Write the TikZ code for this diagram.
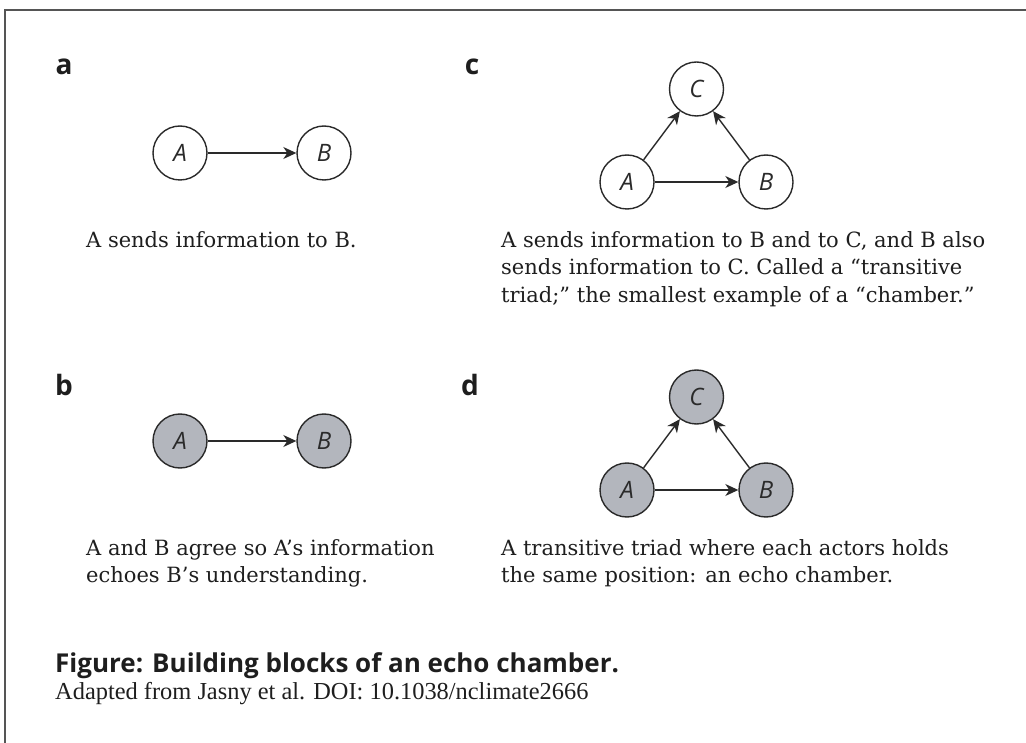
\documentclass[tikz,border=0pt]{standalone}
\usepackage{fontspec}
\setmainfont{DejaVu Serif}
\newfontfamily\panelfont{Open Sans}
\newfontfamily\actorfont{Open Sans}
\newfontfamily\sourcefont{Liberation Serif}
\usetikzlibrary{calc,arrows.meta}

\definecolor{actorline}{HTML}{2A2A2A}
\definecolor{agreefill}{HTML}{B3B6BD}
\definecolor{textcol}{HTML}{1E1E1E}
\definecolor{framecol}{HTML}{555555}

\tikzset{
  actor/.style={circle, draw=actorline, line width=1.4pt, minimum size=54pt,
    inner sep=0pt, text=actorline,
    font=\actorfont\itshape\fontsize{24}{24}\selectfont},
  agree/.style={actor, fill=agreefill},
  sends/.style={-{Stealth[length=13pt,width=12pt,inset=4pt]}, line width=1.4pt,
    draw=actorline},
  panel/.style={font=\panelfont\bfseries\fontsize{28}{28}\selectfont,
    text=textcol},
  caption/.style={anchor=north west, align=left, inner sep=0pt, text=textcol,
    font=\fontsize{21}{27.5}\selectfont}
}

\begin{document}
\begin{tikzpicture}[x=1pt, y=-1pt]
  \def\pairSep{144}
  \def\triSep{139}
  \def\triRise{93}
  \useasboundingbox (0,0) rectangle (1026,743);
  \draw [framecol, line width=1.3pt] (5,743) -- (5,10) -- (1026,10);

  % Panel a: nodes
  \node [panel] (la) at (64,67) {a};
  \node [actor] (aA) at (180,153) {A};
  \node [actor] (aB) at ($(aA)+(\pairSep,0)$) {B};
  \node [caption] (capa) at (86,231) {A sends information to B.};

  % Panel b: nodes
  \node [panel] (lb) at (64,385) {b};
  \node [agree] (bA) at (180,441) {A};
  \node [agree] (bB) at ($(bA)+(\pairSep,0)$) {B};
  \node [caption] (capb) at (86,539) %
  {A and B agree so A’s information\\echoes B’s understanding.};

  % Panel c: nodes
  \node [panel] (lc) at (472,67) {c};
  \node [actor] (cA) at (627,182) {A};
  \node [actor] (cB) at ($(cA)+(\triSep,0)$) {B};
  \node [actor] (cC) at ($(cA)+(\triSep/2,-\triRise)$) {C};
  \node [caption] (capc) at (501,231) %
  {A sends information to B and to C, and B also\\sends information to C. Called a “transitive\\triad;” the smallest example of a “chamber.”};

  % Panel d: nodes
  \node [panel] (ld) at (470,385) {d};
  \node [agree] (dA) at (627,490) {A};
  \node [agree] (dB) at ($(dA)+(\triSep,0)$) {B};
  \node [agree] (dC) at ($(dA)+(\triSep/2,-\triRise)$) {C};
  \node [caption] (capd) at (501,539) %
  {A transitive triad where each actors holds\\the same position: an echo chamber.};

  % Connections
  \draw [sends] (aA) -- (aB);
  \draw [sends] (bA) -- (bB);
  \draw [sends] (cA) -- (cB);
  \draw [sends] (cA) -- (cC);
  \draw [sends] (cB) -- (cC);
  \draw [sends] (dA) -- (dB);
  \draw [sends] (dA) -- (dC);
  \draw [sends] (dB) -- (dC);

  % Figure caption
  \node [anchor=north west, inner sep=0pt, text=textcol, %
    font=\panelfont\bfseries\fontsize{26}{26}\selectfont] (title) at (55,652) %
  {Figure: Building blocks of an echo chamber.};
  \node [anchor=north west, inner sep=0pt, text=textcol, %
    font=\sourcefont\fontsize{24.4}{24.4}\selectfont] (source) at (55,682) %
  {Adapted from Jasny et al. DOI: 10.1038/nclimate2666};
\end{tikzpicture}
\end{document}
